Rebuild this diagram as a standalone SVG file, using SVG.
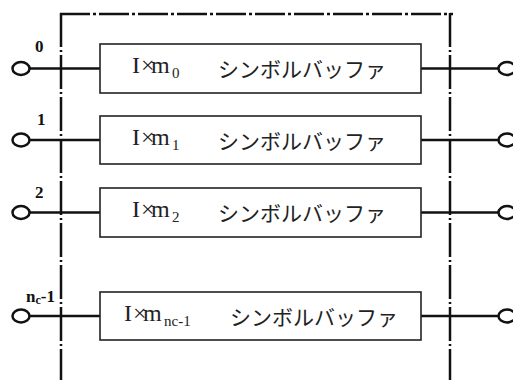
<svg xmlns="http://www.w3.org/2000/svg" width="513" height="380" viewBox="0 0 513 380">
<style>
.frame{stroke:#111;stroke-width:2.5;fill:none;stroke-dasharray:30 3 3 3}
.vframe{stroke:#111;stroke-width:2.5;fill:none;stroke-dasharray:34 3 2 3}
.box{fill:#fff;stroke:#222;stroke-width:1.6}
.wire{stroke:#111;stroke-width:2.5;fill:none}
.term{fill:#fff;stroke:#111;stroke-width:2.5}
.ser{font-family:"Liberation Serif","Times New Roman",serif;fill:#222}
.m{font-size:24px}
.sub{font-size:15px}
.kana{font-family:"Noto Sans CJK JP","Noto Sans",sans-serif;font-size:21px;fill:#222}
.lbl{font-family:"Liberation Serif","Times New Roman",serif;font-size:17px;font-weight:bold;fill:#111}
</style>
<g id="frame">
<line class="frame" x1="60" y1="14" x2="453" y2="14"/>
<line class="vframe" x1="61" y1="13" x2="61" y2="380"/>
<line class="vframe" x1="450" y1="13" x2="450" y2="380"/>
</g>
<g id="connectors">
<line class="wire" x1="29" y1="68.5" x2="100" y2="68.5"/>
<line class="wire" x1="421" y1="68.5" x2="499" y2="68.5"/>
<line class="wire" x1="29" y1="140" x2="100" y2="140"/>
<line class="wire" x1="421" y1="140" x2="499" y2="140"/>
<line class="wire" x1="29" y1="212.5" x2="100" y2="212.5"/>
<line class="wire" x1="421" y1="212.5" x2="499" y2="212.5"/>
<line class="wire" x1="29" y1="316" x2="100" y2="316"/>
<line class="wire" x1="421" y1="316" x2="499" y2="316"/>
</g>
<g id="terminals">
<ellipse class="term" cx="21" cy="68.5" rx="8.5" ry="6.5"/>
<ellipse class="term" cx="507" cy="68.5" rx="8.5" ry="6.5"/>
<ellipse class="term" cx="21" cy="140" rx="8.5" ry="6.5"/>
<ellipse class="term" cx="507" cy="140" rx="8.5" ry="6.5"/>
<ellipse class="term" cx="21" cy="212.5" rx="8.5" ry="6.5"/>
<ellipse class="term" cx="507" cy="212.5" rx="8.5" ry="6.5"/>
<ellipse class="term" cx="21" cy="316" rx="8.5" ry="6.5"/>
<ellipse class="term" cx="507" cy="316" rx="8.5" ry="6.5"/>
</g>
<g id="labels">
<text class="lbl" x="35" y="52">0</text>
<text class="lbl" x="37" y="125">1</text>
<text class="lbl" x="35" y="198">2</text>
<text class="lbl" x="26" y="302">n<tspan font-size="12" dy="2">c</tspan><tspan dy="-2">-1</tspan></text>
</g>
<g id="buf0">
<rect class="box" x="100" y="44" width="321" height="49"/>
<text class="ser m" x="132 141 151" y="73">I×m</text>
<text class="ser sub" x="172" y="78">0</text>
<text class="kana" x="218" y="77">シンボルバッファ</text>
</g>
<g id="buf1">
<rect class="box" x="100" y="116" width="321" height="48"/>
<text class="ser m" x="132 141 151" y="145">I×m</text>
<text class="ser sub" x="172" y="150">1</text>
<text class="kana" x="218" y="149">シンボルバッファ</text>
</g>
<g id="buf2">
<rect class="box" x="100" y="188" width="321" height="49"/>
<text class="ser m" x="132 141 151" y="217">I×m</text>
<text class="ser sub" x="172" y="222">2</text>
<text class="kana" x="218" y="221">シンボルバッファ</text>
</g>
<g id="bufn">
<rect class="box" x="100" y="292" width="321" height="48"/>
<text class="ser m" x="124 133 143" y="321">I×m</text>
<text class="ser sub" x="164" y="326">nc-1</text>
<text class="kana" x="230" y="325">シンボルバッファ</text>
</g>
</svg>
